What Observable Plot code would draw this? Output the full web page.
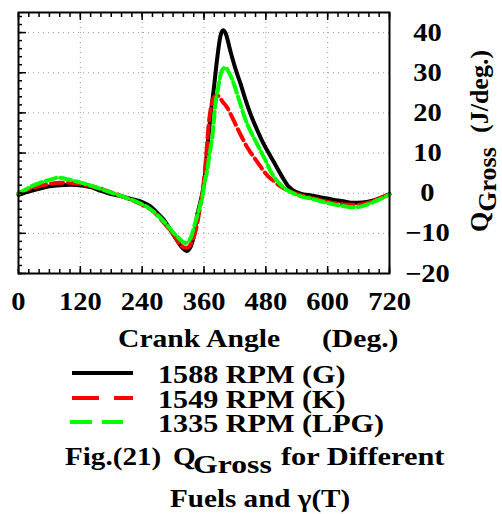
<!DOCTYPE html>
<html><head><meta charset="utf-8">
<script src="https://cdn.jsdelivr.net/npm/d3@7"></script>
<script src="https://cdn.jsdelivr.net/npm/@observablehq/plot@0.6"></script>
<style>
html,body{margin:0;padding:0;background:#fff;}
#wrap{position:relative;width:502px;height:514px;overflow:hidden;background:#fff;}
#wrap svg{position:absolute;left:0;top:0;}
</style></head><body><div id="wrap"></div>
<script>
// ---- data ----
const seriesNames = ["1588 RPM (G)", "1549 RPM (K)", "1335 RPM (LPG)"];

const gAngle = [0,20,40,60,80,100,120,140,160,180,200,220,240,256,270,282,295,308,318,326,333,340,347,353,357,361,366,372,379,386,392,397,402,411,421,431,440,450,463,476,489,502,512,522,532,547,570,590,610,630,650,667,683,702,720];
const gQ     = [-0.4,0.4,1.1,1.7,2.0,2.1,2.0,1.5,0.6,-0.2,-0.8,-1.5,-2.2,-3.3,-5.0,-6.6,-9.2,-11.8,-13.6,-14.4,-13.6,-10.8,-5.3,-2.2,0.2,3.5,10.5,18.5,26,34,39.2,40.6,39.8,35.5,31,27.2,23.5,19.8,15.8,12.2,9.2,6.3,4.0,2.0,0.8,-0.1,-0.6,-1.1,-1.6,-2.0,-2.4,-2.3,-2.0,-1.2,-0.2];

const kAngle = [0,20,40,60,80,100,120,140,160,180,200,220,240,256,270,285,300,314,321,327,333,340,347,353,357,361,365,369,373,378,383,389,395,405,418,434,445,455,465,476,486,496,505,515,528,547,566,586,605,625,650,665,683,700,720];
const kQ     = [0,1.0,1.8,2.3,2.6,2.6,2.3,1.8,1.1,0.2,-0.7,-1.7,-2.9,-4.0,-5.6,-7.8,-10.2,-12.8,-13.5,-13.6,-13.0,-11.0,-7.5,-3.0,0.0,4.5,10.5,17,21,23.5,24.2,24.2,23.0,21.3,18.0,13.8,11.2,9.3,7.5,5.5,4.0,3.0,2.0,1.2,0.4,-0.5,-1.1,-1.7,-2.3,-2.7,-2.9,-2.8,-2.2,-1.3,-0.3];

const lpgAngle = [0,15,26,40,52,65,78,90,110,130,149,170,188,210,230,253,270,282,295,308,318,324,330,336,340,347,353,357,361,366,371,376,382,387,391,396,402,408,418,431,440,450,460,470,480,489,499,508,518,528,547,566,586,605,625,650,665,677,696,710,720];
const lpgQ     = [0,1.0,1.8,2.5,3.0,3.5,3.9,3.6,3.0,2.3,1.5,0.6,-0.2,-1.2,-2.2,-3.7,-5.5,-7.0,-9.0,-10.8,-12.0,-12.4,-12.0,-10.5,-8.7,-5.5,-2.8,-0.8,2.5,5.5,10,13.8,22,26,28.8,30.8,31.3,30.2,27.2,22,18.5,15.5,13,10.5,8,5.5,3.5,2.2,1.0,0.3,-0.75,-1.3,-2.0,-2.6,-3.1,-3.5,-3.3,-2.8,-1.8,-1.0,-0.3];

const xTicks = [0,120,240,360,480,600,720];
const yTicks = [-20,-10,0,10,20,30,40];
const xGrid  = [120,240,360,480,600];
const yGrid  = [-10,0,10,20,30,40];
const xMinor = d3.range(0,721,20);
const yMinor = d3.range(-20,45,2);

// ---- styles ----
const colors = ["#000000","#ff0000","#00ff00"];
const dashes = [null,"12,5","11,4"];
const legendDashes = [null,"27,15","22,10"];
const FONT = "'Liberation Serif','Times New Roman',serif";
const SX = 1.14;

const rows = (a,q,s)=>a.map((x,i)=>({angle:x,q:q[i],series:s}));
const G = rows(gAngle,gQ,seriesNames[0]);
const K = rows(kAngle,kQ,seriesNames[1]);
const L = rows(lpgAngle,lpgQ,seriesNames[2]);

const tickOpts = {fill:"none", label:null, strokeWidth:1.5};
const chart = Plot.plot({
  width:502, height:320,
  marginTop:12, marginBottom:47, marginLeft:18, marginRight:113,
  x:{domain:[0,720]},
  y:{domain:[-20,45]},
  style:{fontFamily:FONT, fontWeight:"bold", fontSize:"25px", color:"#000", background:"transparent", overflow:"visible"},
  marks:[
    Plot.gridX(xGrid,{stroke:"#999",strokeOpacity:1,strokeDasharray:"1,4"}),
    Plot.gridY(yGrid,{stroke:"#999",strokeOpacity:1,strokeDasharray:"1,4"}),
    Plot.line(G,{x:"angle",y:"q",stroke:colors[0],strokeWidth:4,curve:"monotone-x"}),
    Plot.line(K,{x:"angle",y:"q",stroke:colors[1],strokeWidth:4,strokeDasharray:dashes[1],curve:"monotone-x"}),
    Plot.line(L,{x:"angle",y:"q",stroke:colors[2],strokeWidth:4,strokeDasharray:dashes[2],curve:"monotone-x"}),
    Plot.axisX(xMinor,{anchor:"bottom",tickSize:-4,...tickOpts}),
    Plot.axisX(xMinor,{anchor:"top",tickSize:-4,...tickOpts}),
    Plot.axisX(xTicks,{anchor:"bottom",tickSize:-7,...tickOpts}),
    Plot.axisX(xTicks,{anchor:"top",tickSize:-7,...tickOpts}),
    Plot.axisY(yMinor,{anchor:"left",tickSize:-4,...tickOpts}),
    Plot.axisY(yTicks,{anchor:"left",tickSize:-8,...tickOpts}),
    Plot.axisX(xTicks,{anchor:"bottom",tickSize:0,tickPadding:19,label:null}),
    Plot.axisY(yTicks,{anchor:"right",tickSize:0,tickPadding:38,textAnchor:"middle",label:null}),
    Plot.frame({strokeWidth:2})
  ]
});
// stretch tick labels horizontally like the reference (keep vertical offsets as they are)
chart.querySelectorAll("text").forEach(t=>{
  const xa = t.getAttribute("x");
  let x = 0;
  if (xa !== null && !isNaN(+xa)) { x = +xa; t.removeAttribute("x"); }
  const tr = t.getAttribute("transform")||"";
  t.setAttribute("transform", `${tr} translate(${x},0) scale(${SX},1)`);
});
document.getElementById("wrap").appendChild(chart);

// ---- overlay: axis titles, legend, caption ----
const ov = d3.select("#wrap").append("svg")
  .attr("width",502).attr("height",514)
  .style("font-family",FONT).style("font-weight","bold").style("pointer-events","none");

function stext(x,y,str,size,sx){
  return ov.append("text").attr("transform",`translate(${x},${y}) scale(${sx},1)`)
    .attr("font-size",size).attr("fill","#000").text(str);
}
// x title
stext(118,347,"Crank Angle",26,SX);
stext(322,347,"(Deg.)",26,SX);
// y title (rotated)
const yt = ov.append("text").attr("transform","translate(488,232) rotate(-90)").attr("font-size",26).attr("fill","#000");
yt.append("tspan").text("Q");
yt.append("tspan").attr("dy",7.5).text("Gross");
yt.append("tspan").attr("x",99).attr("dy",-7.5).text("(J/deg.)");

// legend
const legX1 = [72,72,70], legX2 = [133,133,123], legY = [373,398,422];
seriesNames.forEach((name,i)=>{
  const ln = ov.append("line").attr("x1",legX1[i]).attr("x2",legX2[i]).attr("y1",legY[i]).attr("y2",legY[i])
    .attr("stroke",colors[i]).attr("stroke-width",4);
  if (legendDashes[i]) ln.attr("stroke-dasharray",legendDashes[i]);
  stext(158,legY[i]+10,name,26,1.16);
});

// caption
stext(65,465,"Fig.(21)",26,1.12);
stext(173,465,"Q",26,1.12);
stext(193,473,"Gross",26,1.22);
stext(281,465,"for Different",26,1.17);
stext(170,507,"Fuels and \u03b3(T)",26,1.12);
</script>
</body></html>
